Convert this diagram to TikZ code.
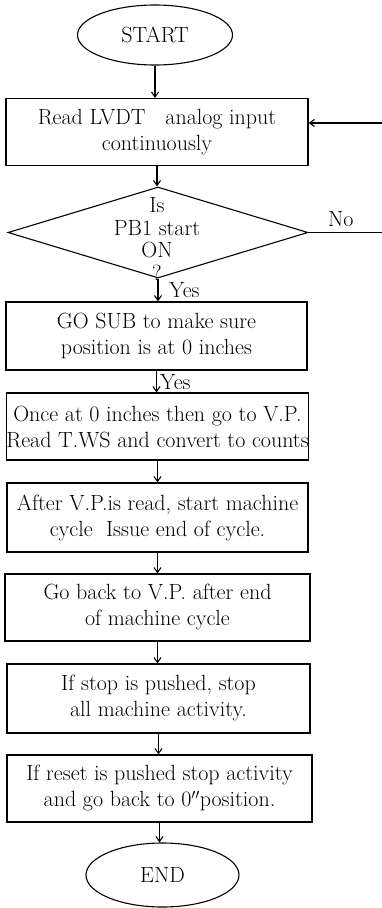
\documentclass[tikz,border=0pt]{standalone}
\usetikzlibrary{shapes.geometric,arrows.meta}
\begin{document}
\begin{tikzpicture}[x=1pt,y=1pt,
  every node/.style={font=\fontsize{22}{26}\selectfont},
  box/.style={draw,line width=1.1pt,rectangle,inner sep=0pt,align=center},
  term/.style={draw,line width=1.1pt,ellipse,inner sep=0pt},
  arr/.style={line width=1.1pt,-{Straight Barb[length=5pt,width=7pt]}},
  ln/.style={line width=1.1pt},
  lbl/.style={inner sep=0pt}]
\useasboundingbox (0,0) rectangle (382,-908);
\node[term,minimum width=155pt,minimum height=60pt] (start) at (155,-35) {START};
\node[box,minimum width=302pt,minimum height=67pt] (b1) at (157,-132) {Read LVDT\ \ \ analog input\\continuously};
\node[diamond,draw,line width=1.1pt,minimum width=300pt,minimum height=91pt,inner sep=0pt] (d) at (158,-232.5) {};
\node[lbl,align=center,font=\fontsize{22}{22.5}\selectfont] (dtext) at (157,-239) {Is\\PB1 start\\ON\\?};
\node[box,minimum width=301pt,minimum height=68pt] (b2) at (156.5,-336) {GO SUB to make sure\\position is at 0 inches};
\node[box,minimum width=301pt,minimum height=67pt] (b3) at (157.5,-426.5) {Once at 0 inches then go to V.P.\\Read T.WS and convert to counts};
\node[box,minimum width=301pt,minimum height=69pt] (b4) at (157.5,-517.5) {After V.P.is read, start machine\\cycle\ \ Issue end of cycle.};
\node[box,minimum width=305pt,minimum height=67pt] (b5) at (157.5,-607.5) {Go back to V.P. after end\\of machine cycle};
\node[box,minimum width=303pt,minimum height=69pt] (b6) at (158.5,-698.5) {If stop is pushed, stop\\all machine activity.};
\node[box,minimum width=305pt,minimum height=67pt] (b7) at (159.5,-788.5) {If reset is pushed stop activity\\and go back to 0$''$position.};
\node[term,minimum width=153pt,minimum height=64pt] (end) at (162.5,-875) {END};
\coordinate (noend) at (382,-232.5);
\coordinate (back) at (382,-123);
\draw[arr] (start.south) -- (start.south |- b1.north);
\draw[arr] (b1.south) -- (b1.south |- d.north);
\draw[arr] (d.south) -- (d.south |- b2.north);
\draw[arr] (b2.south) -- (b2.south |- b3.north);
\draw[arr] (b3.south) -- (b3.south |- b4.north);
\draw[arr] (b4.south) -- (b4.south |- b5.north);
\draw[arr] (b5.south) -- (b5.south |- b6.north);
\draw[arr] (b6.south) -- (b6.south |- b7.north);
\draw[arr] (b7.south) -- (b7.south |- end.north);
\draw[ln] (d.east) -- (noend);
\draw[arr] (back) -- (back -| b1.east);
\node[lbl,anchor=west] (no) at (328,-219) {No};
\node[lbl,anchor=west] (yes1) at (169,-290) {Yes};
\node[lbl,anchor=west] (yes2) at (160,-382) {Yes};
\end{tikzpicture}
\end{document}
